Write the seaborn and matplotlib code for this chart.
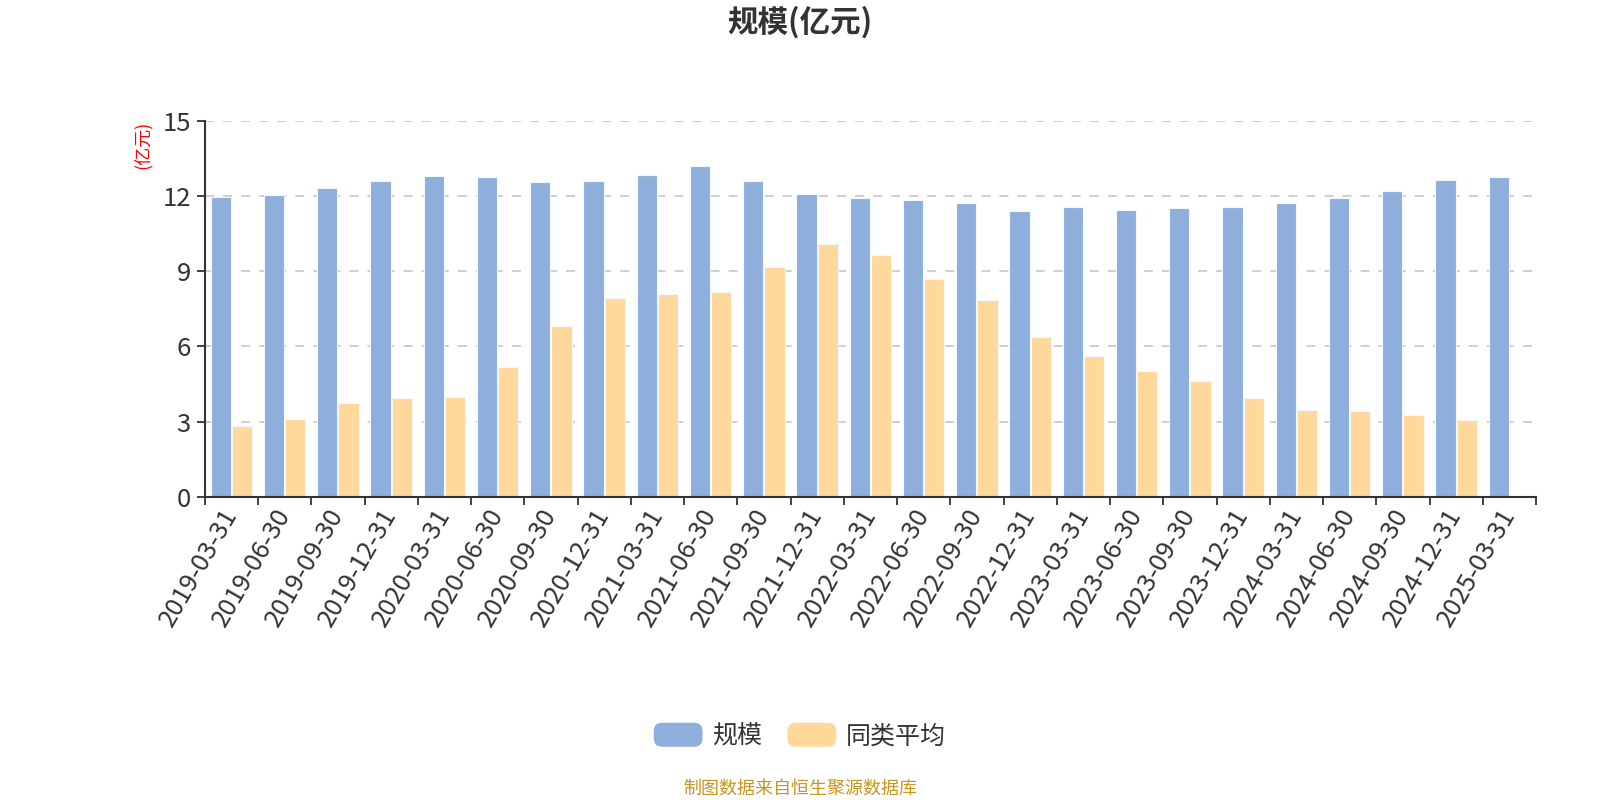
import numpy as np
import pandas as pd
import matplotlib
matplotlib.use("Agg")
import matplotlib.pyplot as plt
import seaborn as sns
from matplotlib.patches import FancyBboxPatch, Patch
from matplotlib.legend_handler import HandlerPatch

dates = ["2019-03-31", "2019-06-30", "2019-09-30", "2019-12-31", "2020-03-31",
         "2020-06-30", "2020-09-30", "2020-12-31", "2021-03-31", "2021-06-30",
         "2021-09-30", "2021-12-31", "2022-03-31", "2022-06-30", "2022-09-30",
         "2022-12-31", "2023-03-31", "2023-06-30", "2023-09-30", "2023-12-31",
         "2024-03-31", "2024-06-30", "2024-09-30", "2024-12-31", "2025-03-31"]
scale = [11.97, 12.05, 12.30, 12.59, 12.78, 12.74, 12.57, 12.60, 12.85, 13.21,
         12.61, 12.07, 11.93, 11.84, 11.71, 11.42, 11.56, 11.46, 11.54, 11.55,
         11.71, 11.93, 12.21, 12.62, 12.75]
peer_avg = [2.81, 3.10, 3.75, 3.94, 3.98, 5.19, 6.81, 7.92, 8.11, 8.17,
            9.15, 10.08, 9.64, 8.69, 7.87, 6.37, 5.63, 5.03, 4.61, 3.96,
            3.48, 3.44, 3.28, 3.05, np.nan]
series_names = ["规模", "同类平均"]
colors = ["#8eaedb", "#ffd99b"]
y_ticks = [0, 3, 6, 9, 12, 15]

df = pd.DataFrame({
    "date": dates * 2,
    "value": scale + peer_avg,
    "series": [series_names[0]] * len(dates) + [series_names[1]] * len(dates),
})

sns.set_theme(style="white")
plt.rcParams["font.family"] = ["Noto Sans CJK SC", "DejaVu Sans"]

fig = plt.figure(figsize=(16, 8), dpi=100)
ax = fig.add_axes([0.128, 0.379, 0.832, 0.470])

sns.barplot(data=df, x="date", y="value", hue="series", order=dates,
            hue_order=series_names, palette=colors, width=0.8, gap=0.05,
            errorbar=None, edgecolor="#f4f7fc", linewidth=0.8, ax=ax,
            saturation=1, legend=False)

ax.set_xlim(-0.5, len(dates) - 0.5)
ax.set_ylim(0, 15)
ax.set_yticks(y_ticks)
ax.set_yticklabels([str(t) for t in y_ticks], fontsize=18.5, color="#333333")
ax.set_xlabel("")
ax.set_ylabel("")
ax.yaxis.grid(True, linestyle=(0, (5, 5)), color="#cccccc", linewidth=1.3)
ax.set_axisbelow(True)

ax.set_xticks(range(len(dates)))
ax.set_xticklabels(dates, rotation=60, ha="right", va="center",
                   rotation_mode="anchor", fontsize=18.5, color="#333333")
ax.tick_params(axis="x", which="major", length=0, pad=10)
ax.set_xticks(np.arange(-0.5, len(dates), 1.0), minor=True)
ax.tick_params(axis="x", which="minor", length=6, width=1.3, color="#333333",
               direction="out", bottom=True)
ax.tick_params(axis="y", which="major", length=6, width=1.3, color="#333333",
               direction="out", left=True, pad=4)

for side in ["top", "right"]:
    ax.spines[side].set_visible(False)
for side in ["left", "bottom"]:
    ax.spines[side].set_color("#333333")
    ax.spines[side].set_linewidth(1.5)

fig.text(0.5, 0.972, "规模(亿元)", ha="center", va="center", fontsize=22,
         fontweight="bold", color="#333333")
fig.text(0.089, 0.819, "(亿元)", ha="center", va="center", rotation=90,
         fontsize=13, color="#ff0000")


class RoundHandler(HandlerPatch):
    def create_artists(self, legend, orig_handle, xdescent, ydescent,
                       width, height, fontsize, trans):
        p = FancyBboxPatch((-xdescent, -ydescent), width, height,
                           boxstyle="round,pad=0,rounding_size=6",
                           facecolor=orig_handle.get_facecolor(),
                           edgecolor="none", transform=trans)
        return [p]


handles = [Patch(facecolor=c, label=n) for c, n in zip(colors, series_names)]
fig.legend(handles=handles, loc="center", bbox_to_anchor=(0.5, 0.08), ncol=2,
           frameon=False, fontsize=18, handlelength=1.95, handleheight=1.1,
           handletextpad=0.4, columnspacing=1.0,
           handler_map={Patch: RoundHandler()},
           labelcolor="#333333")

fig.text(0.5, 0.014, "制图数据来自恒生聚源数据库", ha="center", va="center",
         fontsize=13, color="#c8961e")

fig.savefig("out.png", dpi=100)
